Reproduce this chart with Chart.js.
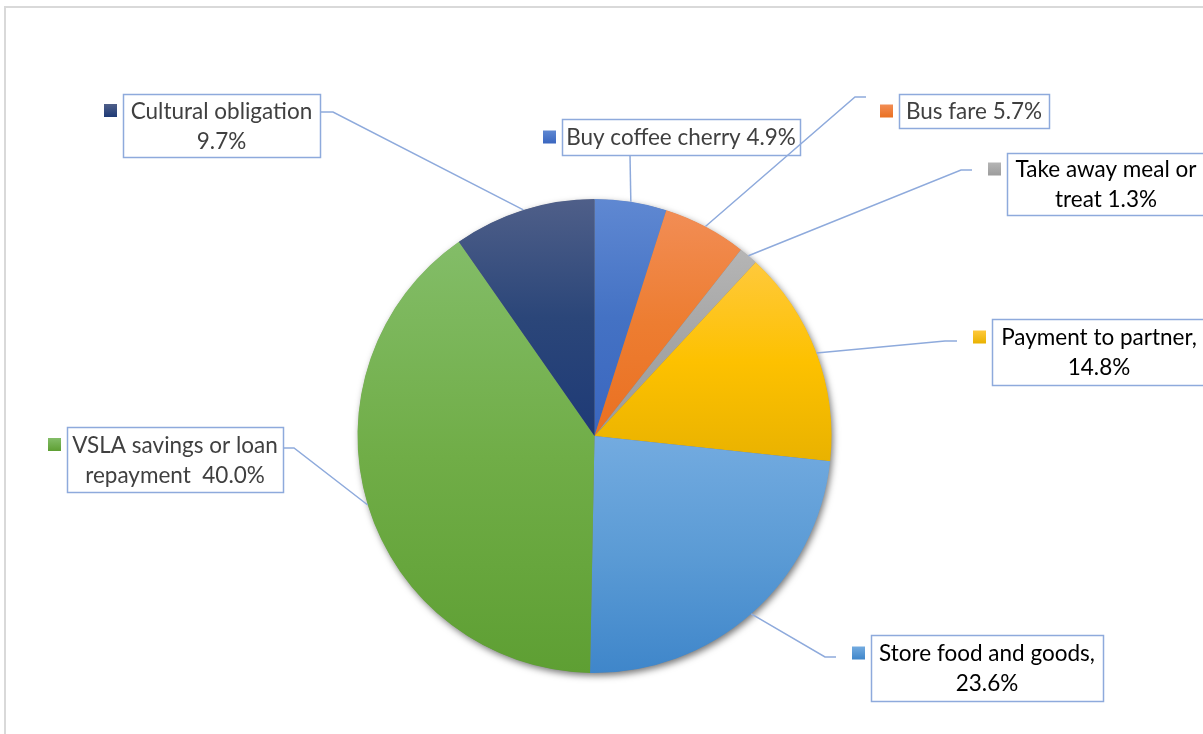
<!DOCTYPE html>
<html>
<head>
<meta charset="utf-8">
<script src="https://cdn.jsdelivr.net/npm/chart.js@4/dist/chart.umd.min.js"></script>
<style>
  html, body { margin: 0; padding: 0; background: #ffffff; }
  #wrap { width: 1203px; height: 734px; position: relative; overflow: hidden; }
  canvas { display: block; background: #ffffff; }
</style>
</head>
<body>
<div id="wrap"><canvas id="chart" width="1203" height="734"></canvas></div>
<script>
// Spending categories and their shares (%)
const categories = [
  'Buy coffee cherry',
  'Bus fare',
  'Take away meal or treat',
  'Payment to partner',
  'Store food and goods',
  'VSLA savings or loan repayment',
  'Cultural obligation'
];
const shares = [4.9, 5.7, 1.3, 14.8, 23.6, 40.0, 9.7];

// Gradient stops per slice: light top, base, darker bottom
const topColors  = ['#5f88d2', '#f28d55', '#b5b5b5', '#ffc93c', '#73abe0', '#83bd68', '#4f5f89'];
const baseColors = ['#4472c4', '#ed7d31', '#a5a5a5', '#fdc100', '#5b9bd5', '#70ad47', '#2b4679'];
const lowColors  = ['#3a66bf', '#ea7021', '#9c9c9c', '#e9b200', '#3f86ca', '#5e9f33', '#1e3a76'];

// Data-label text (the {v} slot takes the formatted share)
const labelLines = [
  ['Buy coffee cherry {v}'],
  ['Bus fare {v}'],
  ['Take away meal or', 'treat {v}'],
  ['Payment to partner,', '{v}'],
  ['Store food and goods,', '{v}'],
  ['VSLA savings or loan', 'repayment  {v}'],
  ['Cultural obligation', '{v}']
];
const labelTextColors = ['#404040', '#404040', '#000000', '#000000', '#000000', '#404040', '#404040'];

// Callout box placement and leader routing
const labelLayout = [
  { x: 562, y: 119, w: 238, h: 36, attach: [630, 155], elbow: null },
  { x: 899, y: 94,  w: 150, h: 34, attach: [866, 97],  elbow: [855, 97] },
  { x: 1007, y: 153, w: 198, h: 62, attach: [972, 170], elbow: [961, 170] },
  { x: 992, y: 319, w: 214, h: 66, attach: [957, 341], elbow: [945, 341] },
  { x: 871, y: 635, w: 232, h: 66, attach: [836, 657], elbow: [825, 657] },
  { x: 67,  y: 427, w: 216, h: 65, attach: [283, 448], elbow: [294, 448] },
  { x: 123, y: 94,  w: 197, h: 63, attach: [320, 112], elbow: [333, 112] }
];

const FONT = '22.5px Lato, "Open Sans", sans-serif';
const LINE_GAP = 30;
const LEADER = '#8eaadc';

// Vertical extent of a slice, used to stretch its gradient
function sliceExtent(cy, r, a0, a1) {
  const ys = [cy, cy + r * Math.sin(a0), cy + r * Math.sin(a1)];
  const twoPi = Math.PI * 2;
  [Math.PI / 2, -Math.PI / 2, Math.PI * 1.5].forEach(a => {
    let t = a;
    while (t < a0) t += twoPi;
    if (t <= a1) ys.push(cy + r * Math.sin(t));
  });
  return [Math.min(...ys), Math.max(...ys)];
}

function sliceFill(context) {
  const i = context.dataIndex;
  const chart = context.chart;
  const area = chart.chartArea;
  if (!area) return baseColors[i];
  const cx = (area.left + area.right) / 2;
  const cy = (area.top + area.bottom) / 2;
  const r = Math.min(area.right - area.left, area.bottom - area.top) / 2;
  const total = shares.reduce((a, b) => a + b, 0);
  let before = 0;
  for (let k = 0; k < i; k++) before += shares[k];
  const a0 = -Math.PI / 2 + (before / total) * Math.PI * 2;
  const a1 = a0 + (shares[i] / total) * Math.PI * 2;
  const [y0, y1] = sliceExtent(cy, r, a0, a1);
  const g = chart.ctx.createLinearGradient(0, y0, 0, y1 + 0.001);
  g.addColorStop(0, topColors[i]);
  g.addColorStop(0.5, baseColors[i]);
  g.addColorStop(1, lowColors[i]);
  return g;
}

// Frame around the chart area
const framePlugin = {
  id: 'frame',
  beforeDraw(chart) {
    const ctx = chart.ctx;
    ctx.save();
    ctx.strokeStyle = '#d9d9d9';
    ctx.lineWidth = 2;
    ctx.strokeRect(5, 7, 1400, 900);
    ctx.restore();
  }
};

// Soft drop shadow under the whole pie
const shadowPlugin = {
  id: 'pieShadow',
  beforeDatasetsDraw(chart) {
    const arc = chart.getDatasetMeta(0).data[0];
    if (!arc) return;
    const ctx = chart.ctx;
    ctx.save();
    ctx.shadowColor = 'rgba(0,0,0,0.55)';
    ctx.shadowBlur = 7;
    ctx.shadowOffsetX = 2;
    ctx.shadowOffsetY = 3;
    ctx.fillStyle = '#7a7a7a';
    ctx.beginPath();
    ctx.arc(arc.x, arc.y, arc.outerRadius - 0.5, 0, Math.PI * 2);
    ctx.fill();
    ctx.restore();
  }
};

// Callout labels with leader lines to each slice's mid-angle
const calloutPlugin = {
  id: 'callouts',
  afterDatasetsDraw(chart) {
    const ctx = chart.ctx;
    const meta = chart.getDatasetMeta(0);
    const values = chart.data.datasets[0].data;
    ctx.save();
    ctx.font = FONT;
    ctx.textAlign = 'center';
    ctx.textBaseline = 'middle';
    meta.data.forEach((arc, i) => {
      const lay = labelLayout[i];
      const mid = (arc.startAngle + arc.endAngle) / 2;
      const ex = arc.x + Math.cos(mid) * arc.outerRadius;
      const ey = arc.y + Math.sin(mid) * arc.outerRadius;

      // leader
      ctx.strokeStyle = LEADER;
      ctx.lineWidth = 1.5;
      ctx.beginPath();
      ctx.moveTo(ex, ey);
      if (lay.elbow) ctx.lineTo(lay.elbow[0], lay.elbow[1]);
      ctx.lineTo(lay.attach[0], lay.attach[1]);
      ctx.stroke();

      // box
      ctx.fillStyle = '#ffffff';
      ctx.fillRect(lay.x, lay.y, lay.w, lay.h);
      ctx.strokeStyle = LEADER;
      ctx.lineWidth = 1.5;
      ctx.strokeRect(lay.x + 0.5, lay.y + 0.5, lay.w, lay.h);

      // text
      const lines = labelLines[i].map(s => s.replace('{v}', values[i].toFixed(1) + '%'));
      const cxText = lay.x + lay.w / 2;
      const firstY = lay.y + lay.h / 2 - (lines.length - 1) * LINE_GAP / 2;
      ctx.fillStyle = labelTextColors[i];
      lines.forEach((t, k) => ctx.fillText(t, cxText, firstY + k * LINE_GAP + 1));

      // legend key square
      const ky = firstY - 6.5;
      const kx = lay.x - 19;
      const g = ctx.createLinearGradient(0, ky, 0, ky + 13);
      g.addColorStop(0, topColors[i]);
      g.addColorStop(1, lowColors[i]);
      ctx.fillStyle = g;
      ctx.fillRect(kx, ky, 13, 13);
    });
    ctx.restore();
  }
};

new Chart(document.getElementById('chart'), {
  type: 'pie',
  data: {
    labels: categories,
    datasets: [{
      data: shares,
      backgroundColor: sliceFill,
      borderWidth: 0,
      hoverOffset: 0
    }]
  },
  options: {
    responsive: false,
    animation: false,
    layout: { padding: { top: 199, bottom: 61, left: 357, right: 371 } },
    plugins: {
      legend: { display: false },
      tooltip: { enabled: false }
    }
  },
  plugins: [framePlugin, shadowPlugin, calloutPlugin]
});
</script>
</body>
</html>
